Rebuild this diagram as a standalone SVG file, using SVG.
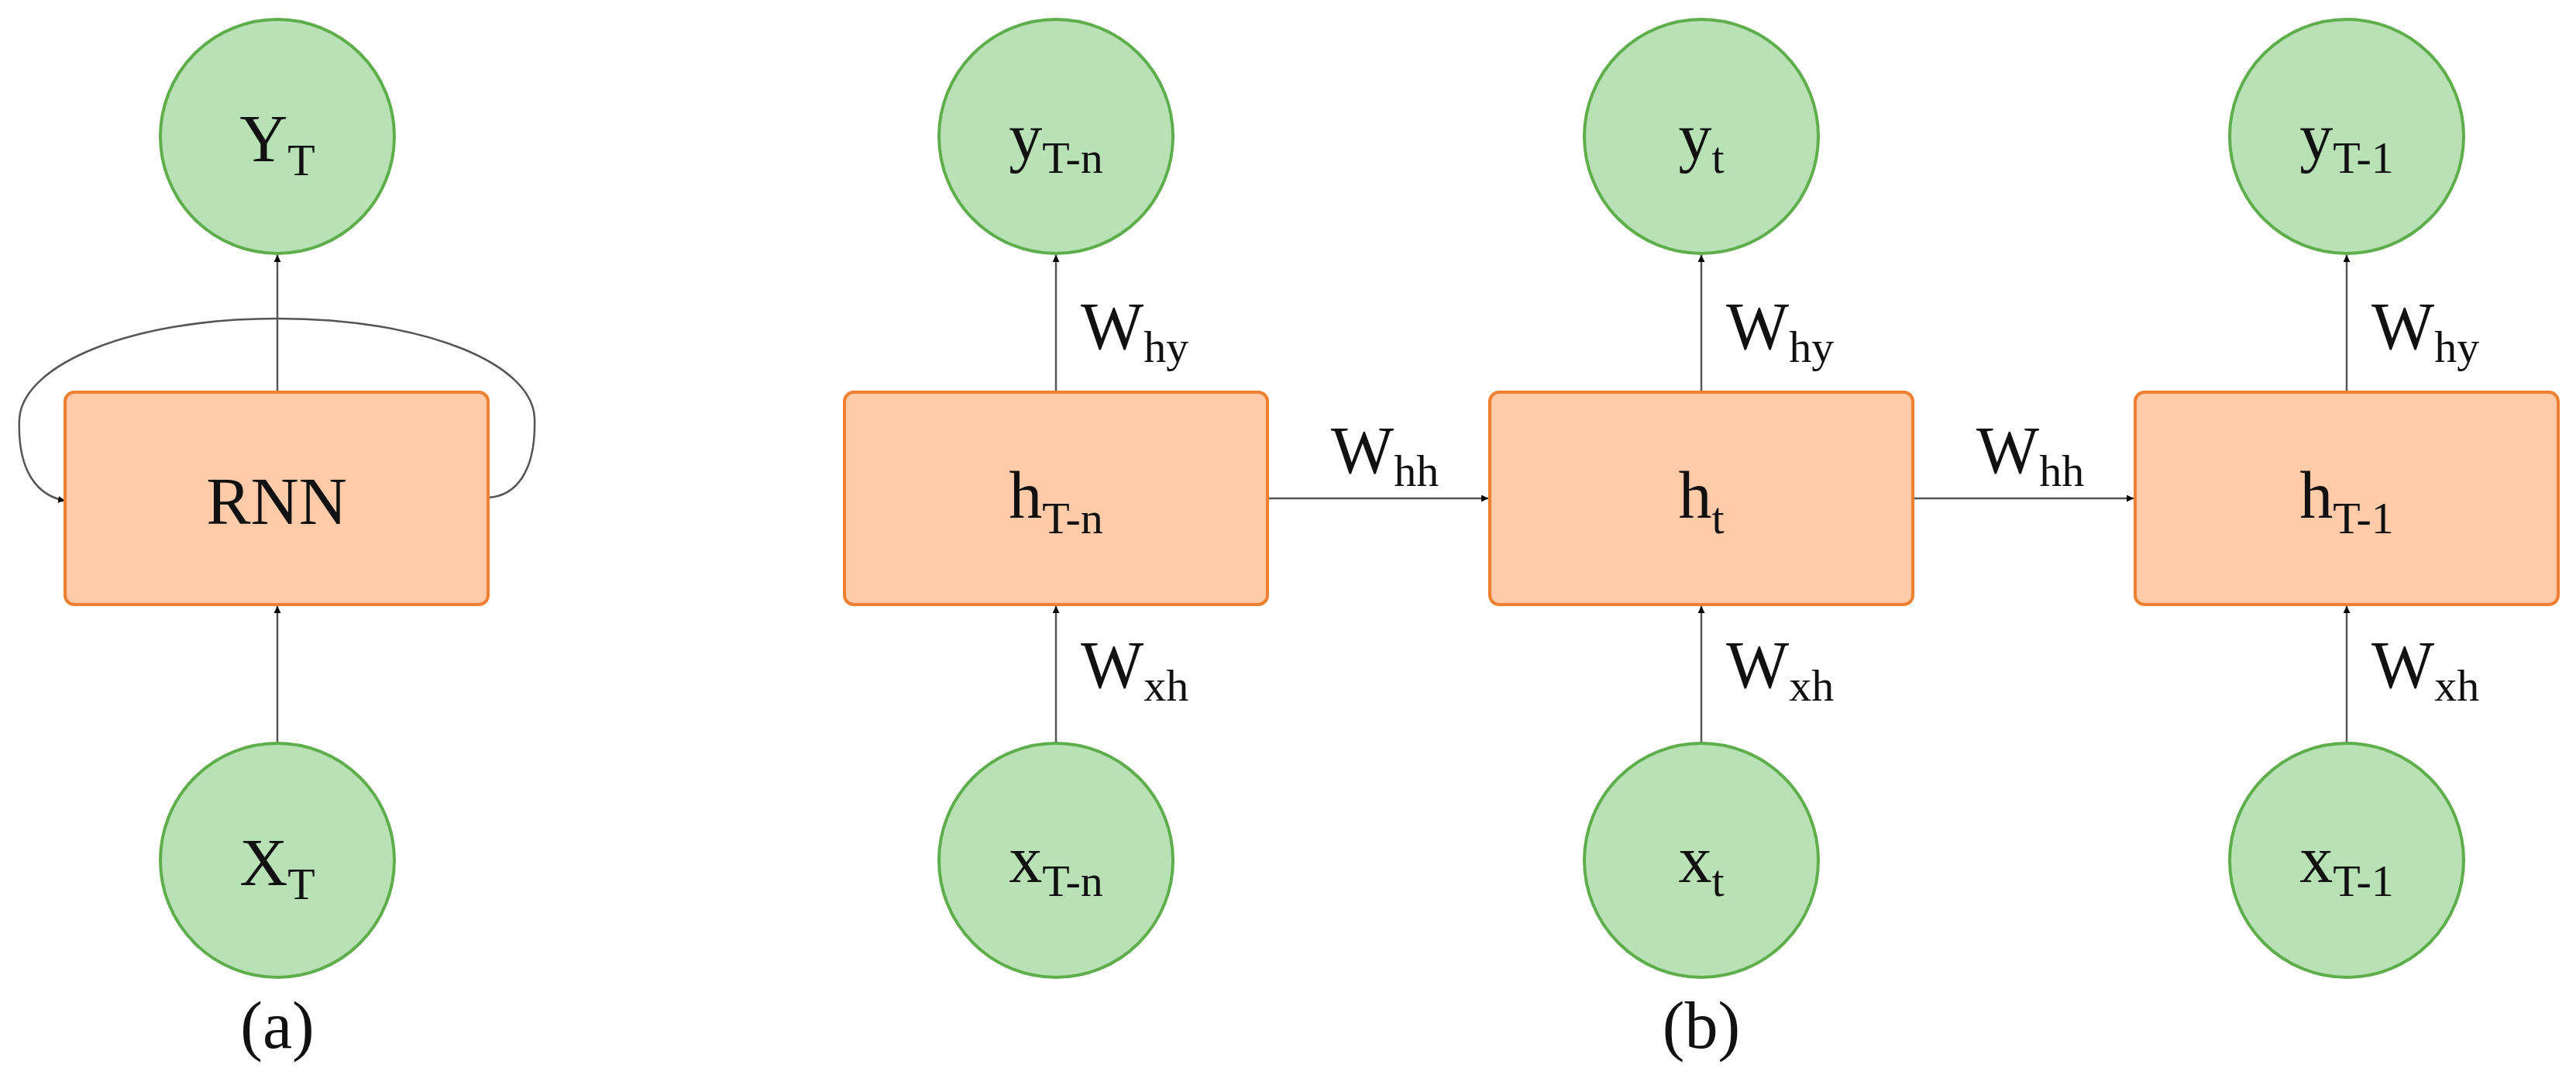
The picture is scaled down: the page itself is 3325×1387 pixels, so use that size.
<svg xmlns="http://www.w3.org/2000/svg" width="3325" height="1387" viewBox="0 0 3325 1387">
<style>
.c{fill:#b9e1b6;stroke:#5fae4c;stroke-width:4}
.b{fill:#ffcba9;stroke:#f0802f;stroke-width:4}
.t{font-family:"Liberation Serif",serif;fill:#111;font-size:86px}
.s{font-size:58px}
.e{stroke:#555;stroke-width:2.5;fill:none;marker-end:url(#a)}
</style>
<defs><marker id="a" viewBox="0 0 10 10" refX="10" refY="5" markerWidth="9" markerHeight="9" markerUnits="userSpaceOnUse" orient="auto"><path d="M0,0L10,5L0,10z" fill="#000"/></marker></defs>
<rect width="3325" height="1387" fill="#fff"/>
<g id="connectors">
<path class="e" d="M358,506V329"/>
<path class="e" d="M358,960V782"/>
<path class="e" d="M630,642C665,640 692,610 690,540C688,470 550,411 358,411C170,411 30,470 25,540C22,610 50,640 84,646"/>
<path class="e" d="M1363,506V329"/>
<path class="e" d="M1363,960V782"/>
<path class="e" d="M2196,506V329"/>
<path class="e" d="M2196,960V782"/>
<path class="e" d="M3029,506V329"/>
<path class="e" d="M3029,960V782"/>
<path class="e" d="M1636,643H1921"/>
<path class="e" d="M2469,643H2754"/>
</g>
<g id="YT"><circle class="c" cx="358" cy="176" r="151"/><text class="t" x="358" y="208" text-anchor="middle">Y<tspan class="s" dy="18">T</tspan></text></g>
<g id="RNN"><rect class="b" x="84" y="506" width="546" height="274" rx="12"/><text class="t" x="357" y="676" text-anchor="middle">RNN</text></g>
<g id="XT"><circle class="c" cx="358" cy="1110" r="151"/><text class="t" x="358" y="1142" text-anchor="middle">X<tspan class="s" dy="18">T</tspan></text></g>
<text class="t" x="358" y="1352" text-anchor="middle">(a)</text>
<g id="yTn"><circle class="c" cx="1363" cy="176" r="151"/><text class="t" x="1363" y="205" text-anchor="middle">y<tspan class="s" dy="18">T-n</tspan></text></g>
<g id="yt"><circle class="c" cx="2196" cy="176" r="151"/><text class="t" x="2196" y="205" text-anchor="middle">y<tspan class="s" dy="18">t</tspan></text></g>
<g id="yT1"><circle class="c" cx="3029" cy="176" r="151"/><text class="t" x="3029" y="205" text-anchor="middle">y<tspan class="s" dy="18">T-1</tspan></text></g>
<g id="hTn"><rect class="b" x="1090" y="506" width="546" height="274" rx="12"/><text class="t" x="1363" y="668" text-anchor="middle">h<tspan class="s" dy="20">T-n</tspan></text></g>
<g id="ht"><rect class="b" x="1923" y="506" width="546" height="274" rx="12"/><text class="t" x="2196" y="668" text-anchor="middle">h<tspan class="s" dy="20">t</tspan></text></g>
<g id="hT1"><rect class="b" x="2756" y="506" width="546" height="274" rx="12"/><text class="t" x="3029" y="668" text-anchor="middle">h<tspan class="s" dy="20">T-1</tspan></text></g>
<g id="xTn"><circle class="c" cx="1363" cy="1110" r="151"/><text class="t" x="1363" y="1138" text-anchor="middle">x<tspan class="s" dy="18">T-n</tspan></text></g>
<g id="xt"><circle class="c" cx="2196" cy="1110" r="151"/><text class="t" x="2196" y="1138" text-anchor="middle">x<tspan class="s" dy="18">t</tspan></text></g>
<g id="xT1"><circle class="c" cx="3029" cy="1110" r="151"/><text class="t" x="3029" y="1138" text-anchor="middle">x<tspan class="s" dy="18">T-1</tspan></text></g>
<g id="labels">
<text class="t" x="1395" y="450">W<tspan class="s" dy="17">hy</tspan></text>
<text class="t" x="2228" y="450">W<tspan class="s" dy="17">hy</tspan></text>
<text class="t" x="3061" y="450">W<tspan class="s" dy="17">hy</tspan></text>
<text class="t" x="1395" y="887">W<tspan class="s" dy="17">xh</tspan></text>
<text class="t" x="2228" y="887">W<tspan class="s" dy="17">xh</tspan></text>
<text class="t" x="3061" y="887">W<tspan class="s" dy="17">xh</tspan></text>
<text class="t" x="1718" y="610">W<tspan class="s" dy="17">hh</tspan></text>
<text class="t" x="2551" y="610">W<tspan class="s" dy="17">hh</tspan></text>
</g>
<text class="t" x="2196" y="1352" text-anchor="middle">(b)</text>
</svg>
